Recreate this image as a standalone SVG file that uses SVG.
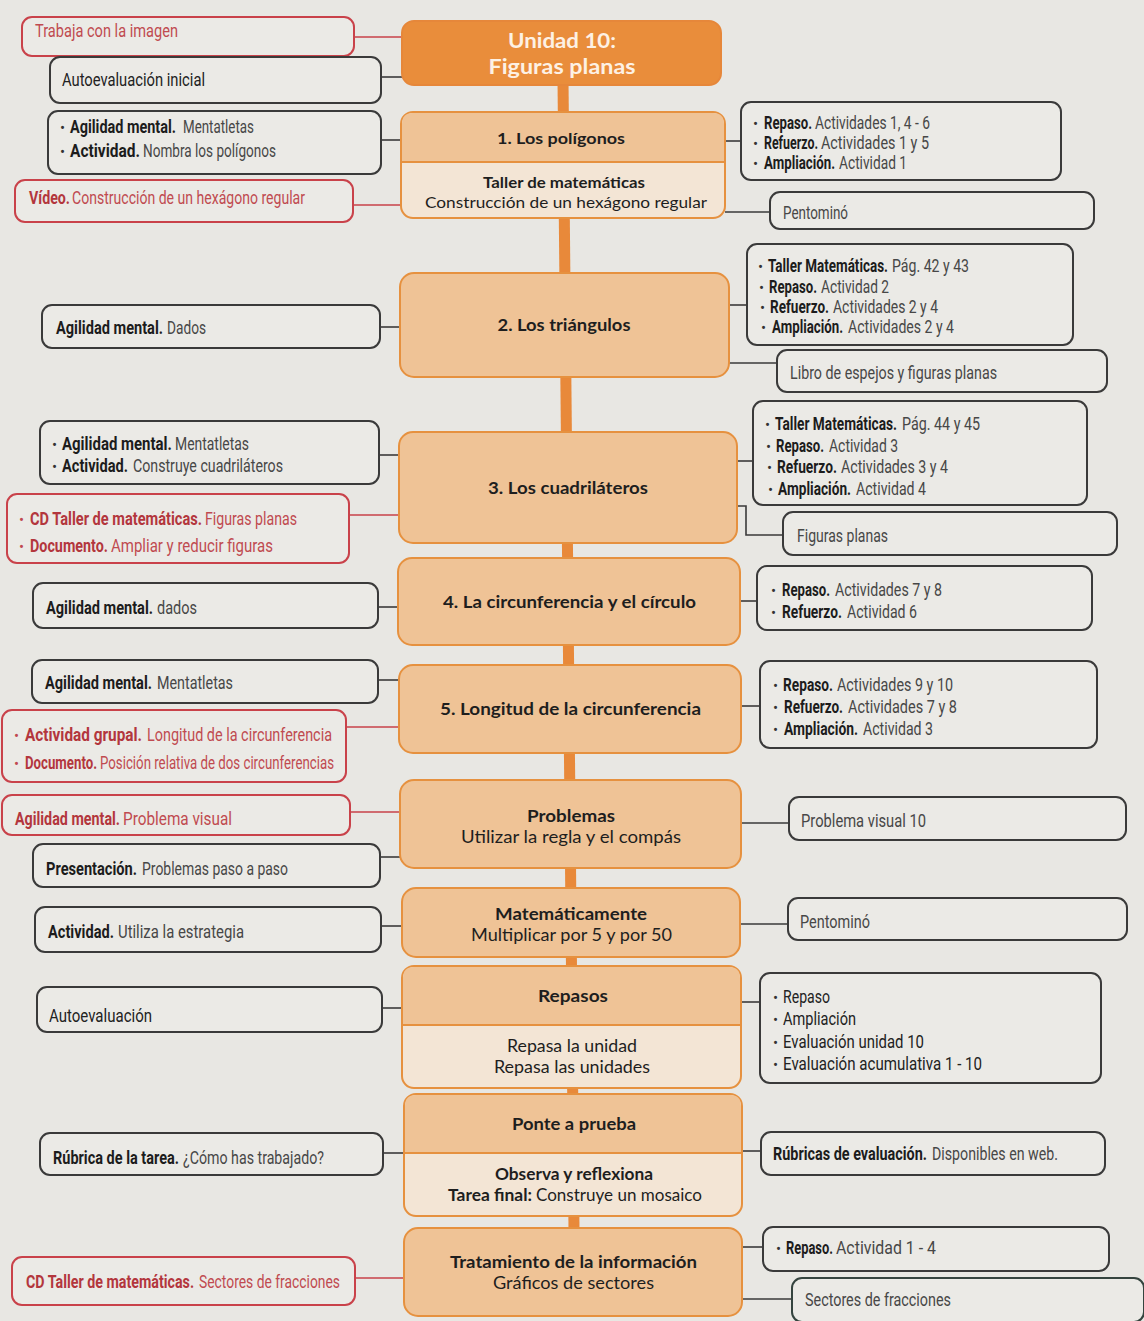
<svg xmlns="http://www.w3.org/2000/svg" width="1144" height="1321" viewBox="0 0 1144 1321">
<style>
.bg{fill:#e8e7e3}
.spine{stroke:#e8893a;stroke-width:11;fill:none}
.cn{fill:#efc396;stroke:#e6913f;stroke-width:2}
.cl{fill:#f3e5d5;stroke:#e6913f;stroke-width:2}
.ctop{fill:#efc396}
.div{stroke:#e6913f;stroke-width:2}
.title{fill:#e98d3b;stroke:#e6873a;stroke-width:2}
.tt{font-family:Lato,"Open Sans",sans-serif;font-weight:700;font-size:21px;fill:#fdf1e4;text-anchor:middle}
.ct{font-family:Lato,"Open Sans",sans-serif;font-size:17px;fill:#1e1e1e;text-anchor:middle}
.cs{font-size:16px}
.cst{font-family:Lato,"Open Sans",sans-serif;font-size:17px;fill:#1e1e1e}
.ctb{font-weight:700}
.dk{fill:#ebeae6;stroke:#3a3a3a;stroke-width:2}
.rd{fill:#ebeae6;stroke:#c9424a;stroke-width:2}
.t{font-family:Roboto,"Liberation Sans",sans-serif;font-size:19px;fill:#474747}
.k{fill:#222}
.tr{fill:#c04a50}
.b{font-weight:700;fill:#1c1c1c}
.rb{font-weight:700;fill:#b3363d}
.bu{font-family:Roboto,"Liberation Sans",sans-serif;font-size:15px;fill:#333}
.bur{fill:#c04a50}
.lk{stroke:#3a3a3a;stroke-width:1.6;fill:none}
.lr{stroke:#c9424a;stroke-width:1.6;fill:none}
</style>
<rect class="bg" x="0" y="0" width="1144" height="1321"/>

<g id="connectors">
<path class="spine" d="M563 80 L574 1230"/>
<line class="lr" x1="354" y1="37" x2="402" y2="37"/>
<line class="lk" x1="381" y1="77" x2="402" y2="77"/>
<line class="lk" x1="381" y1="140" x2="401" y2="140"/>
<line class="lr" x1="353" y1="205" x2="401" y2="205"/>
<line class="lk" x1="380" y1="327" x2="400" y2="327"/>
<line class="lk" x1="379" y1="455" x2="399" y2="455"/>
<line class="lr" x1="349" y1="515" x2="399" y2="515"/>
<line class="lk" x1="378" y1="607" x2="398" y2="607"/>
<line class="lk" x1="378" y1="680" x2="399" y2="680"/>
<line class="lr" x1="346" y1="727" x2="399" y2="727"/>
<line class="lr" x1="350" y1="812" x2="400" y2="812"/>
<line class="lk" x1="380" y1="857" x2="400" y2="857"/>
<line class="lk" x1="381" y1="926" x2="402" y2="926"/>
<line class="lk" x1="382" y1="1008" x2="402" y2="1008"/>
<line class="lk" x1="383" y1="1153" x2="404" y2="1153"/>
<line class="lr" x1="355" y1="1278" x2="404" y2="1278"/>
<line class="lk" x1="725" y1="141" x2="741" y2="141"/>
<line class="lk" x1="725" y1="212" x2="770" y2="212"/>
<line class="lk" x1="729" y1="305" x2="747" y2="305"/>
<line class="lk" x1="729" y1="363" x2="777" y2="363"/>
<line class="lk" x1="737" y1="461" x2="753" y2="461"/>
<path class="lk" d="M737 506 H746 V535 H783"/>
<line class="lk" x1="740" y1="601" x2="757" y2="601"/>
<line class="lk" x1="741" y1="706" x2="760" y2="706"/>
<line class="lk" x1="741" y1="823" x2="789" y2="823"/>
<line class="lk" x1="740" y1="924" x2="788" y2="924"/>
<line class="lk" x1="741" y1="1002" x2="760" y2="1002"/>
<line class="lk" x1="742" y1="1151" x2="761" y2="1151"/>
<line class="lk" x1="742" y1="1247" x2="763" y2="1247"/>
<line class="lk" x1="742" y1="1299" x2="792" y2="1299"/>
</g>

<!-- central nodes -->
<g id="c-title">
<rect class="title" x="402" y="21" width="319" height="64" rx="12"/>
<text class="tt" x="562" y="48" textLength="108" lengthAdjust="spacingAndGlyphs">Unidad 10:</text>
<text class="tt" x="562" y="74" textLength="147" lengthAdjust="spacingAndGlyphs">Figuras planas</text>
</g>
<g id="c-poligonos">
<rect class="cl" x="401" y="112" width="324" height="106" rx="12"/>
<path class="ctop" d="M402 162 V124 Q402 113 413 113 H713 Q724 113 724 124 V162 Z"/>
<line class="div" x1="401" y1="162" x2="725" y2="162"/>
<text class="ct ctb cs" x="561" y="144" textLength="128" lengthAdjust="spacingAndGlyphs">1. Los polígonos</text>
<text class="ct ctb cs" x="564" y="188" textLength="162" lengthAdjust="spacingAndGlyphs">Taller de matemáticas</text>
<text class="ct cs" x="566" y="208" textLength="282" lengthAdjust="spacingAndGlyphs">Construcción de un hexágono regular</text>
</g>
<g id="c-triangulos">
<rect class="cn" x="400" y="273" width="329" height="104" rx="14"/>
<text class="ct ctb" x="564" y="331" textLength="133" lengthAdjust="spacingAndGlyphs">2. Los triángulos</text>
</g>
<g id="c-cuadrilateros">
<rect class="cn" x="399" y="432" width="338" height="111" rx="14"/>
<text class="ct ctb" x="568" y="494" textLength="160" lengthAdjust="spacingAndGlyphs">3. Los cuadriláteros</text>
</g>
<g id="c-circunferencia">
<rect class="cn" x="398" y="558" width="342" height="87" rx="14"/>
<text class="ct ctb" x="569.5" y="608" textLength="253" lengthAdjust="spacingAndGlyphs">4. La circunferencia y el círculo</text>
</g>
<g id="c-longitud">
<rect class="cn" x="399" y="665" width="342" height="88" rx="14"/>
<text class="ct ctb" x="570.5" y="715" textLength="261" lengthAdjust="spacingAndGlyphs">5. Longitud de la circunferencia</text>
</g>
<g id="c-problemas">
<rect class="cn" x="400" y="780" width="341" height="88" rx="14"/>
<text class="ct ctb" x="571" y="822" textLength="88" lengthAdjust="spacingAndGlyphs">Problemas</text>
<text class="ct" x="571" y="843" textLength="220" lengthAdjust="spacingAndGlyphs">Utilizar la regla y el compás</text>
</g>
<g id="c-matematicamente">
<rect class="cn" x="402" y="888" width="338" height="69" rx="14"/>
<text class="ct ctb" x="571" y="920" textLength="152" lengthAdjust="spacingAndGlyphs">Matemáticamente</text>
<text class="ct" x="571.5" y="941" textLength="201" lengthAdjust="spacingAndGlyphs">Multiplicar por 5 y por 50</text>
</g>
<g id="c-repasos">
<rect class="cl" x="402" y="966" width="339" height="122" rx="12"/>
<path class="ctop" d="M403 1025 V978 Q403 967 414 967 H729 Q740 967 740 978 V1025 Z"/>
<line class="div" x1="402" y1="1025" x2="741" y2="1025"/>
<text class="ct ctb" x="573" y="1002" textLength="70" lengthAdjust="spacingAndGlyphs">Repasos</text>
<text class="ct" x="572" y="1052" textLength="130" lengthAdjust="spacingAndGlyphs">Repasa la unidad</text>
<text class="ct" x="572" y="1073" textLength="156" lengthAdjust="spacingAndGlyphs">Repasa las unidades</text>
</g>
<g id="c-ponte">
<rect class="cl" x="404" y="1094" width="338" height="122" rx="12"/>
<path class="ctop" d="M405 1153 V1106 Q405 1095 416 1095 H730 Q741 1095 741 1106 V1153 Z"/>
<line class="div" x1="404" y1="1153" x2="742" y2="1153"/>
<text class="ct ctb" x="574" y="1130" textLength="124" lengthAdjust="spacingAndGlyphs">Ponte a prueba</text>
<text class="ct ctb" x="574" y="1180" textLength="158" lengthAdjust="spacingAndGlyphs">Observa y reflexiona</text>
<text class="cst ctb" x="448" y="1201" textLength="84" lengthAdjust="spacingAndGlyphs">Tarea final:</text>
<text class="cst" x="536" y="1201" textLength="166" lengthAdjust="spacingAndGlyphs">Construye un mosaico</text>
</g>
<g id="c-tratamiento">
<rect class="cn" x="404" y="1228" width="338" height="88" rx="14"/>
<text class="ct ctb" x="573.5" y="1268" textLength="247" lengthAdjust="spacingAndGlyphs">Tratamiento de la información</text>
<text class="ct" x="573.5" y="1289" textLength="161" lengthAdjust="spacingAndGlyphs">Gráficos de sectores</text>
</g>

<!-- left nodes -->
<g id="l-trabaja"><rect class="rd" x="22" y="17" width="332" height="39" rx="10"/>
<text class="t tr" transform="translate(35 37) scale(.65 1)" textLength="220" lengthAdjust="spacingAndGlyphs">Trabaja con la imagen</text></g>
<g id="l-autoeval-inicial"><rect class="dk" x="50" y="57" width="331" height="46" rx="10"/>
<text class="t k" transform="translate(62 86) scale(.65 1)" textLength="220" lengthAdjust="spacingAndGlyphs">Autoevaluación inicial</text></g>
<g id="l-agilidad1"><rect class="dk" x="48" y="111" width="333" height="63" rx="10"/>
<text class="bu" x="60" y="133">•</text>
<text class="t b" transform="translate(70 133) scale(.65 1)" textLength="163" lengthAdjust="spacingAndGlyphs">Agilidad mental.</text>
<text class="t" transform="translate(183 133) scale(.65 1)" textLength="109.2" lengthAdjust="spacingAndGlyphs">Mentatletas</text>
<text class="bu" x="60" y="157">•</text>
<text class="t b" transform="translate(70 157) scale(.65 1)" textLength="107.7" lengthAdjust="spacingAndGlyphs">Actividad.</text>
<text class="t" transform="translate(143 157) scale(.65 1)" textLength="204.6" lengthAdjust="spacingAndGlyphs">Nombra los polígonos</text></g>
<g id="l-video"><rect class="rd" x="15" y="180" width="338" height="42" rx="10"/>
<text class="t rb" transform="translate(29 204) scale(.65 1)" textLength="63" lengthAdjust="spacingAndGlyphs">Vídeo.</text>
<text class="t tr" transform="translate(72 204) scale(.65 1)" textLength="358.5" lengthAdjust="spacingAndGlyphs">Construcción de un hexágono regular</text></g>
<g id="l-dados"><rect class="dk" x="42" y="305" width="338" height="43" rx="10"/>
<text class="t b" transform="translate(56 334) scale(.65 1)" textLength="164.6" lengthAdjust="spacingAndGlyphs">Agilidad mental.</text>
<text class="t" transform="translate(167 334) scale(.65 1)" textLength="60" lengthAdjust="spacingAndGlyphs">Dados</text></g>
<g id="l-agilidad2"><rect class="dk" x="40" y="421" width="339" height="63" rx="10"/>
<text class="bu" x="52" y="450">•</text>
<text class="t b" transform="translate(62 450) scale(.65 1)" textLength="169" lengthAdjust="spacingAndGlyphs">Agilidad mental.</text>
<text class="t" transform="translate(175 450) scale(.65 1)" textLength="113.8" lengthAdjust="spacingAndGlyphs">Mentatletas</text>
<text class="bu" x="52" y="472">•</text>
<text class="t b" transform="translate(62 472) scale(.65 1)" textLength="101.5" lengthAdjust="spacingAndGlyphs">Actividad.</text>
<text class="t" transform="translate(133 472) scale(.65 1)" textLength="230.8" lengthAdjust="spacingAndGlyphs">Construye cuadriláteros</text></g>
<g id="l-cdtaller"><rect class="rd" x="7" y="494" width="342" height="69" rx="10"/>
<text class="bu bur" x="19" y="525">•</text>
<text class="t rb" transform="translate(30 525) scale(.65 1)" textLength="264.6" lengthAdjust="spacingAndGlyphs">CD Taller de matemáticas.</text>
<text class="t tr" transform="translate(205 525) scale(.65 1)" textLength="141.5" lengthAdjust="spacingAndGlyphs">Figuras planas</text>
<text class="bu bur" x="19" y="552">•</text>
<text class="t rb" transform="translate(30 552) scale(.65 1)" textLength="120" lengthAdjust="spacingAndGlyphs">Documento.</text>
<text class="t tr" transform="translate(111 552) scale(.65 1)" textLength="249.2" lengthAdjust="spacingAndGlyphs">Ampliar y reducir figuras</text></g>
<g id="l-dados2"><rect class="dk" x="33" y="583" width="345" height="45" rx="10"/>
<text class="t b" transform="translate(46 614) scale(.65 1)" textLength="164.6" lengthAdjust="spacingAndGlyphs">Agilidad mental.</text>
<text class="t" transform="translate(157 614) scale(.65 1)" textLength="61.5" lengthAdjust="spacingAndGlyphs">dados</text></g>
<g id="l-mentatletas"><rect class="dk" x="32" y="660" width="346" height="43" rx="10"/>
<text class="t b" transform="translate(45 689) scale(.65 1)" textLength="164.6" lengthAdjust="spacingAndGlyphs">Agilidad mental.</text>
<text class="t" transform="translate(157 689) scale(.65 1)" textLength="116.9" lengthAdjust="spacingAndGlyphs">Mentatletas</text></g>
<g id="l-grupal"><rect class="rd" x="2" y="710" width="344" height="72" rx="10"/>
<text class="bu bur" x="14" y="741">•</text>
<text class="t rb" transform="translate(25 741) scale(.65 1)" textLength="180" lengthAdjust="spacingAndGlyphs">Actividad grupal.</text>
<text class="t tr" transform="translate(147 741) scale(.65 1)" textLength="284.6" lengthAdjust="spacingAndGlyphs">Longitud de la circunferencia</text>
<text class="bu bur" x="14" y="769">•</text>
<text class="t rb" transform="translate(25 769) scale(.65 1)" textLength="110.8" lengthAdjust="spacingAndGlyphs">Documento.</text>
<text class="t tr" transform="translate(100 769) scale(.65 1)" textLength="360" lengthAdjust="spacingAndGlyphs">Posición relativa de dos circunferencias</text></g>
<g id="l-problema-visual"><rect class="rd" x="2" y="795" width="348" height="40" rx="10"/>
<text class="t rb" transform="translate(15 825) scale(.65 1)" textLength="161.5" lengthAdjust="spacingAndGlyphs">Agilidad mental.</text>
<text class="t tr" transform="translate(123 825) scale(.65 1)" textLength="167.7" lengthAdjust="spacingAndGlyphs">Problema visual</text></g>
<g id="l-presentacion"><rect class="dk" x="33" y="844" width="347" height="43" rx="10"/>
<text class="t b" transform="translate(46 875) scale(.65 1)" textLength="140" lengthAdjust="spacingAndGlyphs">Presentación.</text>
<text class="t" transform="translate(142 875) scale(.65 1)" textLength="224.6" lengthAdjust="spacingAndGlyphs">Problemas paso a paso</text></g>
<g id="l-estrategia"><rect class="dk" x="35" y="907" width="346" height="45" rx="10"/>
<text class="t b" transform="translate(48 938) scale(.65 1)" textLength="101.5" lengthAdjust="spacingAndGlyphs">Actividad.</text>
<text class="t" transform="translate(118 938) scale(.65 1)" textLength="193.8" lengthAdjust="spacingAndGlyphs">Utiliza la estrategia</text></g>
<g id="l-autoeval"><rect class="dk" x="37" y="987" width="345" height="45" rx="10"/>
<text class="t k" transform="translate(49 1022) scale(.65 1)" textLength="158.5" lengthAdjust="spacingAndGlyphs">Autoevaluación</text></g>
<g id="l-rubrica"><rect class="dk" x="40" y="1133" width="343" height="42" rx="10"/>
<text class="t b" transform="translate(53 1164) scale(.65 1)" textLength="193.8" lengthAdjust="spacingAndGlyphs">Rúbrica de la tarea.</text>
<text class="t" transform="translate(183 1164) scale(.65 1)" textLength="216.9" lengthAdjust="spacingAndGlyphs">¿Cómo has trabajado?</text></g>
<g id="l-cdsectores"><rect class="rd" x="12" y="1257" width="343" height="48" rx="10"/>
<text class="t rb" transform="translate(26 1288) scale(.65 1)" textLength="258.5" lengthAdjust="spacingAndGlyphs">CD Taller de matemáticas.</text>
<text class="t tr" transform="translate(199 1288) scale(.65 1)" textLength="216.9" lengthAdjust="spacingAndGlyphs">Sectores de fracciones</text></g>

<!-- right nodes -->
<g id="r-poligonos"><rect class="dk" x="741" y="102" width="320" height="78" rx="10"/>
<text class="bu" x="753" y="129">•</text>
<text class="t b" transform="translate(764 129) scale(.65 1)" textLength="73.8" lengthAdjust="spacingAndGlyphs">Repaso.</text>
<text class="t" transform="translate(815 129) scale(.65 1)" textLength="176.9" lengthAdjust="spacingAndGlyphs">Actividades 1, 4 - 6</text>
<text class="bu" x="753" y="149">•</text>
<text class="t b" transform="translate(764 149) scale(.65 1)" textLength="83.1" lengthAdjust="spacingAndGlyphs">Refuerzo.</text>
<text class="t" transform="translate(821 149) scale(.65 1)" textLength="166.2" lengthAdjust="spacingAndGlyphs">Actividades 1 y 5</text>
<text class="bu" x="753" y="169">•</text>
<text class="t b" transform="translate(764 169) scale(.65 1)" textLength="109.2" lengthAdjust="spacingAndGlyphs">Ampliación.</text>
<text class="t" transform="translate(839 169) scale(.65 1)" textLength="104.6" lengthAdjust="spacingAndGlyphs">Actividad 1</text></g>
<g id="r-pentomino1"><rect class="dk" x="770" y="192" width="324" height="37" rx="10"/>
<text class="t" transform="translate(783 219) scale(.65 1)" textLength="100" lengthAdjust="spacingAndGlyphs">Pentominó</text></g>
<g id="r-triangulos"><rect class="dk" x="747" y="244" width="326" height="101" rx="10"/>
<text class="bu" x="758" y="272">•</text>
<text class="t b" transform="translate(768 272) scale(.65 1)" textLength="184.6" lengthAdjust="spacingAndGlyphs">Taller Matemáticas.</text>
<text class="t" transform="translate(892 272) scale(.65 1)" textLength="118.5" lengthAdjust="spacingAndGlyphs">Pág. 42 y 43</text>
<text class="bu" x="759" y="293">•</text>
<text class="t b" transform="translate(769 293) scale(.65 1)" textLength="73.8" lengthAdjust="spacingAndGlyphs">Repaso.</text>
<text class="t" transform="translate(821 293) scale(.65 1)" textLength="104.6" lengthAdjust="spacingAndGlyphs">Actividad 2</text>
<text class="bu" x="760" y="313">•</text>
<text class="t b" transform="translate(770 313) scale(.65 1)" textLength="90.8" lengthAdjust="spacingAndGlyphs">Refuerzo.</text>
<text class="t" transform="translate(833 313) scale(.65 1)" textLength="161.5" lengthAdjust="spacingAndGlyphs">Actividades 2 y 4</text>
<text class="bu" x="761" y="333">•</text>
<text class="t b" transform="translate(772 333) scale(.65 1)" textLength="109.2" lengthAdjust="spacingAndGlyphs">Ampliación.</text>
<text class="t" transform="translate(848 333) scale(.65 1)" textLength="163.1" lengthAdjust="spacingAndGlyphs">Actividades 2 y 4</text></g>
<g id="r-espejos"><rect class="dk" x="777" y="350" width="330" height="42" rx="10"/>
<text class="t" transform="translate(790 379) scale(.65 1)" textLength="318.5" lengthAdjust="spacingAndGlyphs">Libro de espejos y figuras planas</text></g>
<g id="r-cuadrilateros"><rect class="dk" x="753" y="401" width="334" height="104" rx="10"/>
<text class="bu" x="765" y="430">•</text>
<text class="t b" transform="translate(775 430) scale(.65 1)" textLength="187.7" lengthAdjust="spacingAndGlyphs">Taller Matemáticas.</text>
<text class="t" transform="translate(902 430) scale(.65 1)" textLength="120" lengthAdjust="spacingAndGlyphs">Pág. 44 y 45</text>
<text class="bu" x="766" y="452">•</text>
<text class="t b" transform="translate(776 452) scale(.65 1)" textLength="73.8" lengthAdjust="spacingAndGlyphs">Repaso.</text>
<text class="t" transform="translate(829 452) scale(.65 1)" textLength="106.2" lengthAdjust="spacingAndGlyphs">Actividad 3</text>
<text class="bu" x="767" y="473">•</text>
<text class="t b" transform="translate(777 473) scale(.65 1)" textLength="92.3" lengthAdjust="spacingAndGlyphs">Refuerzo.</text>
<text class="t" transform="translate(841 473) scale(.65 1)" textLength="164.6" lengthAdjust="spacingAndGlyphs">Actividades 3 y 4</text>
<text class="bu" x="768" y="495">•</text>
<text class="t b" transform="translate(778 495) scale(.65 1)" textLength="112.3" lengthAdjust="spacingAndGlyphs">Ampliación.</text>
<text class="t" transform="translate(856 495) scale(.65 1)" textLength="107.7" lengthAdjust="spacingAndGlyphs">Actividad 4</text></g>
<g id="r-figuras"><rect class="dk" x="783" y="512" width="334" height="43" rx="10"/>
<text class="t" transform="translate(797 542) scale(.65 1)" textLength="140" lengthAdjust="spacingAndGlyphs">Figuras planas</text></g>
<g id="r-circunferencia"><rect class="dk" x="757" y="566" width="335" height="64" rx="10"/>
<text class="bu" x="771" y="596">•</text>
<text class="t b" transform="translate(782 596) scale(.65 1)" textLength="73.8" lengthAdjust="spacingAndGlyphs">Repaso.</text>
<text class="t" transform="translate(835 596) scale(.65 1)" textLength="164.6" lengthAdjust="spacingAndGlyphs">Actividades 7 y 8</text>
<text class="bu" x="771" y="618">•</text>
<text class="t b" transform="translate(782 618) scale(.65 1)" textLength="92.3" lengthAdjust="spacingAndGlyphs">Refuerzo.</text>
<text class="t" transform="translate(847 618) scale(.65 1)" textLength="107.7" lengthAdjust="spacingAndGlyphs">Actividad 6</text></g>
<g id="r-longitud"><rect class="dk" x="760" y="661" width="337" height="87" rx="10"/>
<text class="bu" x="773" y="691">•</text>
<text class="t b" transform="translate(783 691) scale(.65 1)" textLength="76.9" lengthAdjust="spacingAndGlyphs">Repaso.</text>
<text class="t" transform="translate(837 691) scale(.65 1)" textLength="178.5" lengthAdjust="spacingAndGlyphs">Actividades 9 y 10</text>
<text class="bu" x="773" y="713">•</text>
<text class="t b" transform="translate(784 713) scale(.65 1)" textLength="90.8" lengthAdjust="spacingAndGlyphs">Refuerzo.</text>
<text class="t" transform="translate(848 713) scale(.65 1)" textLength="167.7" lengthAdjust="spacingAndGlyphs">Actividades 7 y 8</text>
<text class="bu" x="773" y="735">•</text>
<text class="t b" transform="translate(784 735) scale(.65 1)" textLength="113.8" lengthAdjust="spacingAndGlyphs">Ampliación.</text>
<text class="t" transform="translate(863 735) scale(.65 1)" textLength="107.7" lengthAdjust="spacingAndGlyphs">Actividad 3</text></g>
<g id="r-problema10"><rect class="dk" x="789" y="797" width="337" height="43" rx="10"/>
<text class="t" transform="translate(801 827) scale(.65 1)" textLength="192.3" lengthAdjust="spacingAndGlyphs">Problema visual 10</text></g>
<g id="r-pentomino2"><rect class="dk" x="788" y="898" width="339" height="42" rx="10"/>
<text class="t" transform="translate(800 928) scale(.65 1)" textLength="107.7" lengthAdjust="spacingAndGlyphs">Pentominó</text></g>
<g id="r-repasos"><rect class="dk" x="760" y="973" width="341" height="110" rx="10"/>
<text class="bu" x="773" y="1003">•</text>
<text class="t k" transform="translate(783 1003) scale(.65 1)" textLength="72.3" lengthAdjust="spacingAndGlyphs">Repaso</text>
<text class="bu" x="773" y="1025">•</text>
<text class="t k" transform="translate(783 1025) scale(.65 1)" textLength="112.3" lengthAdjust="spacingAndGlyphs">Ampliación</text>
<text class="bu" x="773" y="1048">•</text>
<text class="t k" transform="translate(783 1048) scale(.65 1)" textLength="216.9" lengthAdjust="spacingAndGlyphs">Evaluación unidad 10</text>
<text class="bu" x="773" y="1070">•</text>
<text class="t k" transform="translate(783 1070) scale(.65 1)" textLength="306.2" lengthAdjust="spacingAndGlyphs">Evaluación acumulativa 1 - 10</text></g>
<g id="r-rubricas"><rect class="dk" x="761" y="1132" width="344" height="43" rx="10"/>
<text class="t b" transform="translate(773 1160) scale(.65 1)" textLength="236.9" lengthAdjust="spacingAndGlyphs">Rúbricas de evaluación.</text>
<text class="t" transform="translate(932 1160) scale(.65 1)" textLength="193.8" lengthAdjust="spacingAndGlyphs">Disponibles en web.</text></g>
<g id="r-repaso14"><rect class="dk" x="763" y="1227" width="346" height="44" rx="10"/>
<text class="bu" x="776" y="1254">•</text>
<text class="t b" transform="translate(786 1254) scale(.65 1)" textLength="72.3" lengthAdjust="spacingAndGlyphs">Repaso.</text>
<text class="t" transform="translate(836 1254) scale(.65 1)" textLength="153.8" lengthAdjust="spacingAndGlyphs">Actividad 1 - 4</text></g>
<g id="r-sectores"><rect class="dk" x="792" y="1278" width="352" height="44" rx="10" style="stroke:#35443f"/>
<text class="t" transform="translate(805 1306) scale(.65 1)" textLength="224.6" lengthAdjust="spacingAndGlyphs">Sectores de fracciones</text></g>
</svg>
